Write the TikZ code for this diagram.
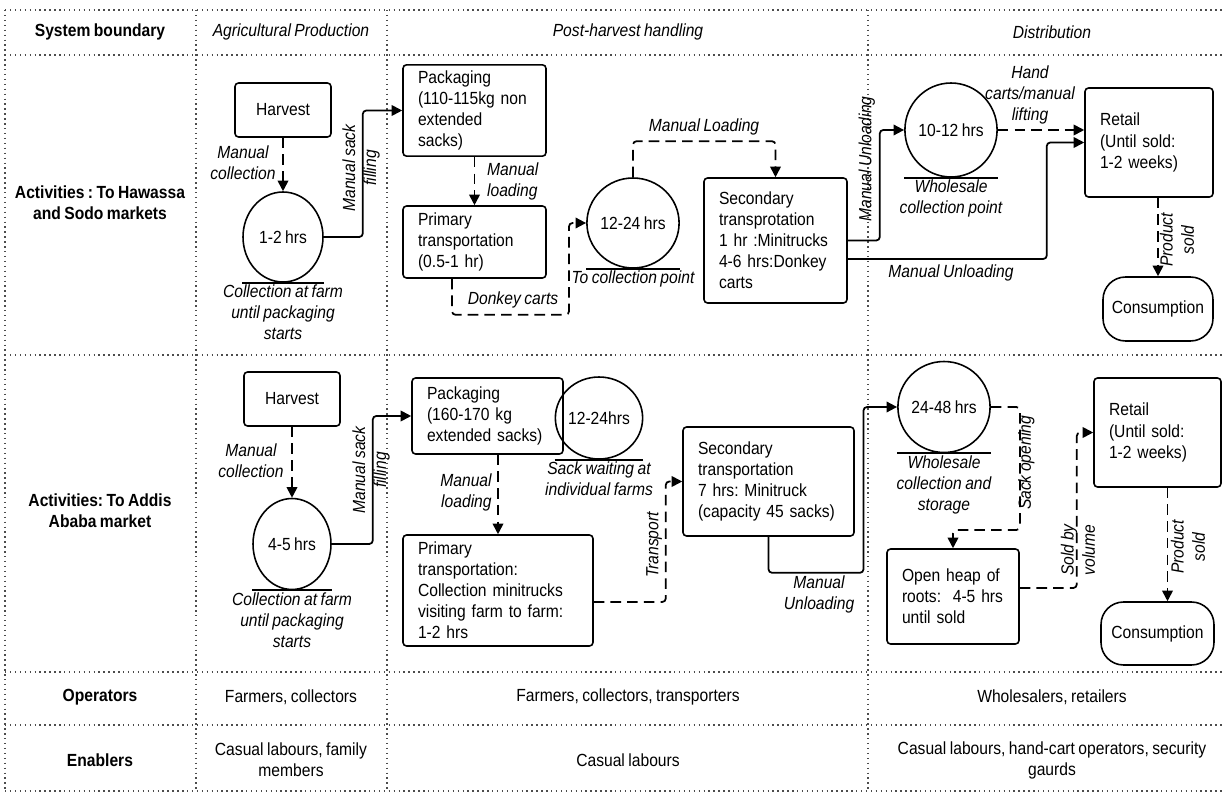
\documentclass[tikz,border=0pt]{standalone}
\usepackage{fontspec}
\setmainfont{Liberation Sans}[FakeStretch=0.89, WordSpace=0.8]
\frenchspacing
\usetikzlibrary{arrows.meta,positioning,calc,shapes}

\begin{document}
\begin{tikzpicture}[x=0.02cm, y=-0.02cm, every node/.style={font=\normalsize},
    actbox/.style={draw, line width=0.9pt, rounded corners=2pt, align=left, inner xsep=0.3cm},
    hold/.style={draw, ellipse, line width=0.9pt, inner sep=0pt, minimum width=1.6cm, minimum height=1.8cm},
    endbox/.style={draw, line width=0.9pt, rounded corners=0.45cm, minimum width=2.2cm, minimum height=1.28cm},
    flow/.style={line width=1pt, rounded corners=2pt, -{Triangle[length=6pt,width=6pt]}},
    dashflow/.style={flow, dash pattern=on 6pt off 3.5pt},
    lab/.style={font=\itshape, align=center, inner sep=1pt},
    sysline/.style={dotted, line width=0.8pt, black!70},
    rowhead/.style={font=\bfseries, align=center}]
    \useasboundingbox (0,0) rectangle (1225,794);

    % table lines
    \foreach \y in {10,55,355,672,725,791} \draw[sysline] (5,\y) -- (1225,\y);
    \foreach \x in {5,196,387,868} \draw[sysline] (\x,10) -- (\x,791);

    % header row
    \node[rowhead] (hsys) at (100,32) {System boundary};
    \node[font=\itshape] (hagr) at (291,32) {Agricultural Production};
    \node[font=\itshape] (hpost) at (628,32) {Post-harvest handling};
    \node[font=\itshape] (hdist) at (1052,32) {Distribution};

    % row heads
    \node[rowhead] (rhaw) at (100,203) {Activities : To Hawassa\\and Sodo markets};
    \node[rowhead] (radd) at (100,511) {Activities: To Addis\\Ababa market};
    \node[rowhead] (rop) at (100,697) {Operators};
    \node[rowhead] (ren) at (100,760) {Enablers};

    % Hawassa / Sodo chain
    \node[actbox, align=center, minimum width=1.92cm, minimum height=1.08cm] (harv1) at (283,110) {Harvest};
    \node[hold] (c1) at (283,237) {1-2 hrs};
    \node[actbox, text width=2.26cm, minimum height=1.82cm] (pack1) at (474.5,110.5) {Packaging\\(110-115kg~non\\extended\\sacks)};
    \node[actbox, text width=2.26cm, minimum height=1.44cm] (prim1) at (474.5,242) {Primary\\transportation\\(0.5-1 hr)};
    \node[hold] (c2) at (633,223) {12-24 hrs};
    \node[actbox, text width=2.26cm, minimum height=2.5cm] (sec1) at (775.5,240.5) {Secondary\\transprotation\\1 hr :Minitrucks\\4-6~hrs:Donkey\\carts};
    \node[hold, minimum height=1.88cm] (c3) at (951,130) {10-12 hrs};
    \node[actbox, text width=1.96cm, minimum height=2.18cm] (ret1) at (1149,142.5) {Retail\\(Until sold:\\1-2 weeks)};
    \node[endbox] (cons1) at (1158,309) {Consumption};

    % Addis Ababa chain
    \node[actbox, align=center, minimum width=1.92cm, minimum height=1.08cm] (harv2) at (292,399) {Harvest};
    \node[hold, minimum width=1.56cm, minimum height=1.82cm] (c4) at (292,544) {4-5 hrs};
    \node[actbox, text width=2.42cm, minimum height=1.52cm] (pack2) at (487.5,416) {Packaging\\(160-170 kg\\extended~sacks)};
    \node[hold, minimum width=1.38cm, minimum height=1.64cm] (c5) at (599,418) {12-24hrs};
    \node[actbox, text width=3.2cm, minimum height=2.22cm] (prim2) at (498,590.5) {Primary\\transportation:\\Collection~minitrucks\\visiting farm to farm:\\1-2 hrs};
    \node[actbox, text width=2.82cm, minimum height=2.18cm] (sec2) at (768.5,481.5) {Secondary\\transportation\\7 hrs: Minitruck\\(capacity~45~sacks)};
    \node[hold, minimum width=1.62cm, minimum height=1.82cm] (c6) at (944,407) {24-48 hrs};
    \node[actbox, text width=2.04cm, minimum height=1.9cm] (heap) at (953,596.5) {Open heap of\\roots:~~4-5~hrs\\until sold};
    \node[actbox, text width=1.94cm, minimum height=2.18cm] (ret2) at (1157.5,432.5) {Retail\\(Until sold:\\1-2 weeks)};
    \node[endbox, minimum width=2.26cm, minimum height=1.26cm] (cons2) at (1157.5,633.5) {Consumption};

    % lines under the holding points
    \foreach \c in {c1,c2,c3,c4,c5,c6}
        \draw[line width=0.9pt] (\c.south -| \c.west) -- (\c.south -| \c.east);
    \node[lab, below=0pt of c1] (c1cap) {Collection at farm\\until packaging\\starts};
    \node[lab, below=0pt of c2] (c2cap) {To collection point};
    \node[lab, below=0pt of c3] (c3cap) {Wholesale\\collection point};
    \node[lab, below=0pt of c4] (c4cap) {Collection at farm\\until packaging\\starts};
    \node[lab, below=0pt of c5] (c5cap) {Sack waiting at\\individual farms};
    \node[lab, below=0pt of c6] (c6cap) {Wholesale\\collection and\\storage};

    % connectors, Hawassa / Sodo
    \draw[dashflow] (harv1.south) -- (c1.north);
    \draw[flow] (c1.east) -- ++(39,0) |- (pack1.west);
    \draw[dashflow] (pack1.south) -- (prim1.north);
    \draw[dashflow] ([xshift=-0.45cm]prim1.south) -- ++(0,36) -- ++(117,0) |- (c2.west);
    \draw[dashflow] (c2.north) -- ++(0,-36) -| (sec1.north);
    \draw[flow] (sec1.east) -- ++(32,0) |- (c3.west);
    \draw[dashflow] (c3.east) -- (c3.east -| ret1.west);
    \draw[flow] ([yshift=-0.37cm]sec1.east) -- ++(199,0) |- (ret1.west);
    \draw[dashflow] (ret1.south -| cons1.north) -- (cons1.north);

    % connectors, Addis Ababa
    \draw[dashflow] (harv2.south) -- (c4.north);
    \draw[flow] (c4.east) -- ++(41,0) |- (pack2.west);
    \draw[dashflow] (pack2.south -| prim2.north) -- (prim2.north);
    \draw[dashflow] ([yshift=-0.23cm]prim2.east) -- ++(72,0) |- (sec2.west);
    \draw[flow] (sec2.south) -- ++(0,36) -- ++(95,0) |- (c6.west);
    \draw[dashflow] (c6.east) -- ++(29,0) -- ++(0,123) -| (heap.north);
    \draw[dashflow] ([yshift=0.17cm]heap.east) -- ++(57,0) |- (ret2.west);
    \draw[dashflow] ([xshift=0.2cm]ret2.south) -- ([xshift=0.2cm]cons2.north);

    % connector labels
    \node[lab] (lcol1) at (243,163) {Manual\\collection};
    \node[lab, rotate=90] (lfill1) at (361,168) {Manual sack\\filling};
    \node[lab, align=left, anchor=west] (lload1) at (485,181) {Manual\\loading};
    \node[lab] (ldonk) at (513,300) {Donkey carts};
    \node[lab] (lmload) at (704,127) {Manual Loading};
    \node[lab, rotate=90, anchor=south] (lunl1) at (877,159) {Manual Unloading};
    \node[lab] (lhand) at (1030,95) {Hand\\carts/manual\\lifting};
    \node[lab] (lunl2) at (951,273) {Manual Unloading};
    \node[lab, rotate=90] (lsold1) at (1177,240) {Product\\sold};

    \node[lab] (lcol2) at (251,461) {Manual\\collection};
    \node[lab, rotate=90] (lfill2) at (371,470) {Manual sack\\filling};
    \node[lab, align=right] (lload2) at (466,492) {Manual\\loading};
    \node[lab, rotate=90, anchor=south] (ltrans) at (664,545) {Transport};
    \node[lab] (lunl3) at (819,594) {Manual\\Unloading};
    \node[lab, rotate=90, anchor=north] (lopen) at (1016,463) {Sack opening};
    \node[lab, rotate=90] (lvol) at (1078,550) {Sold by\\volume};
    \node[lab, rotate=90] (lsold2) at (1188,547) {Product\\sold};

    % operators and enablers
    \node (op1) at (291,697) {Farmers, collectors};
    \node (op2) at (628,697) {Farmers, collectors, transporters};
    \node (op3) at (1052,697) {Wholesalers, retailers};
    \node[align=center] (en1) at (291,760) {Casual labours, family\\members};
    \node (en2) at (628,760) {Casual labours};
    \node[align=center] (en3) at (1052,760) {Casual labours, hand-cart operators, security\\gaurds};
\end{tikzpicture}
\end{document}
